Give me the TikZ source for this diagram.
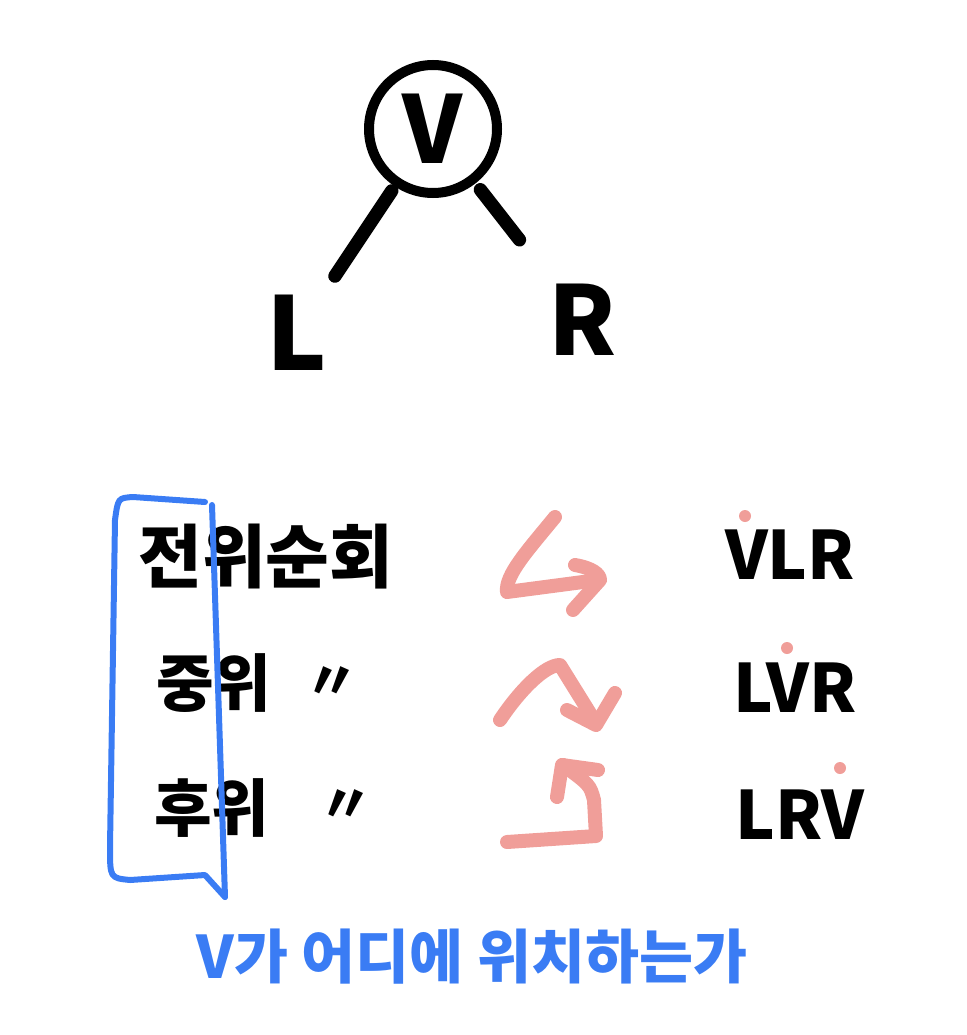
\documentclass[tikz,border=0pt]{standalone}
\usepackage{fontspec}
\newfontfamily\hand{Noto Sans CJK KR}
\definecolor{pen}{HTML}{F09E99}
\definecolor{ink}{HTML}{3A7CF4}

\begin{document}
\begin{tikzpicture}[x=0.75pt,y=-0.75pt]
\tikzstyle{every node}+=[inner sep=0pt, font=\hand\bfseries]
\tikzset{
  big/.style={font=\hand\bfseries\fontsize{#1}{#1}\selectfont},
  stroke/.style={line width=10pt, line cap=round},
  swoosh/.style={pen, line width=10.5pt, line cap=round, line join=round},
}
\useasboundingbox (0,0) rectangle (967,1035);
% tree
\node [draw, circle, line width=7.5pt, minimum size=96pt, big=70] (v) at (433,129) {V};
\node [big=76] (l) at (297,333) {L};
\node [big=72] (r) at (582,320) {R};
\draw [stroke, shorten <=4pt, shorten >=17pt] (v) -- (l);
\draw [stroke, shorten <=6pt, shorten >=42pt] (v) -- (r);
% left column
\node [big=52, anchor=west] (pre) at (138,557) {전위순회};
\node [big=47, anchor=west] (in) at (156,683) {중위};
\node [big=40] (indit) at (332,683) {〃};
\node [big=47, anchor=west] (post) at (154,808) {후위};
\node [big=40] (postdit) at (346,806) {〃};
% right column
\node [big=50] (vlr) at (790,555) {VLR};
\node [big=50] (lvr) at (795,688) {LVR};
\node [big=50] (lrv) at (800,815) {LRV};
\fill [pen] (745,516) circle (4.5pt);
\fill [pen] (787,648) circle (4.5pt);
\fill [pen] (840,768) circle (4.5pt);
% arrows
\draw [swoosh] (555,517) .. controls (528,550) and (505,575) .. (507,592) -- (598,580);
\draw [swoosh] (575,565) .. controls (592,568) and (600,574) .. (600,580) -- (573,610);
\draw [swoosh] (500,720) .. controls (520,690) and (545,665) .. (560,665) -- (596,723);
\draw [swoosh] (567,710) -- (596,725) -- (615,693);
\draw [swoosh] (507,842) -- (596,836) -- (594,800) .. controls (590,785) .. (563,765);
\draw [swoosh] (557,797) -- (562,765) -- (598,770);
% bracket
\draw [ink, line width=4.5pt, line cap=round, line join=round]
  (205,502) -- (133,497) .. controls (118,498) .. (115,520) -- (110,847)
  .. controls (110,878) .. (130,880) -- (205,875) -- (225,897);
\draw [ink, line width=4.5pt, line cap=round] (212,505) -- (225,897);
\node [ink, big=44] (note) at (472,957) {V가 어디에 위치하는가};
\end{tikzpicture}
\end{document}
